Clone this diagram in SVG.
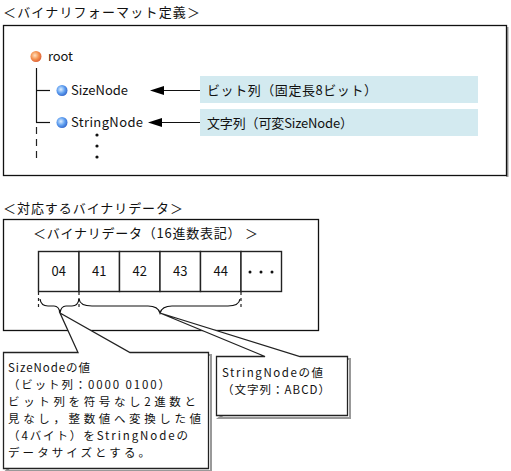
<svg xmlns="http://www.w3.org/2000/svg" width="511" height="471" viewBox="0 0 511 471">
<defs>
<style>
text{font-family:"Noto Sans CJK JP","DejaVu Sans",sans-serif;font-size:13px;fill:#111}
.ct{font-size:11.5px}
.frame{fill:#fff;stroke:#111;stroke-width:1.3}
.blue{fill:#d3eaf0}
.ln{stroke:#111;stroke-width:1.2;fill:none}
.dash{stroke:#222;stroke-width:1.2;fill:none;stroke-dasharray:7,5}
.bdash{stroke:#222;stroke-width:1.2;fill:none;stroke-dasharray:3,3}
.cell{fill:#fff;stroke:#222;stroke-width:1.4}
.call{fill:#fff;stroke:#222;stroke-width:1.3}
.shadow{fill:#999}
</style>
<radialGradient id="gOr" cx="0.4" cy="0.4" r="0.6">
<stop offset="0" stop-color="#ffe0c0"/><stop offset="0.6" stop-color="#f4924e"/><stop offset="1" stop-color="#e0663a"/>
</radialGradient>
<radialGradient id="gBl" cx="0.4" cy="0.4" r="0.6">
<stop offset="0" stop-color="#e0f0ff"/><stop offset="0.6" stop-color="#5f9ff0"/><stop offset="1" stop-color="#3a6fd0"/>
</radialGradient>
<marker id="arr" markerWidth="14" markerHeight="10" refX="0" refY="5" orient="auto" markerUnits="userSpaceOnUse">
<path d="M14,5 L0,0.5 L0,9.5 Z" fill="#000"/>
</marker>
</defs>

<g id="title1"><text x="3" y="17" textLength="197" lengthAdjust="spacing">＜バイナリフォーマット定義＞</text></g>

<g id="format-frame">
<rect x="506" y="27" width="2.5" height="150" class="shadow"/>
<rect x="3.5" y="25.5" width="503" height="150" class="frame"/>
</g>

<g id="connectors">
<line class="ln" x1="36.5" y1="68" x2="36.5" y2="122.5"/>
<line class="ln" x1="36" y1="90.5" x2="50" y2="90.5"/>
<line class="ln" x1="36" y1="122.5" x2="50" y2="122.5"/>
<line class="dash" x1="36.5" y1="127" x2="36.5" y2="160"/>
<line class="ln" x1="200" y1="90.5" x2="164" y2="90.5" marker-end="url(#arr)"/>
<line class="ln" x1="200" y1="122.5" x2="162" y2="122.5" marker-end="url(#arr)"/>
</g>

<g id="root">
<circle cx="36" cy="56.5" r="5.5" fill="url(#gOr)"/>
<text x="48" y="61" textLength="25" lengthAdjust="spacing">root</text>
</g>
<g id="sizenode">
<circle cx="62" cy="90.5" r="5.5" fill="url(#gBl)"/>
<text x="71" y="95" textLength="57" lengthAdjust="spacing">SizeNode</text>
</g>
<g id="stringnode">
<circle cx="62" cy="122.5" r="5.5" fill="url(#gBl)"/>
<text x="71" y="127" textLength="72" lengthAdjust="spacing">StringNode</text>
</g>
<g id="more">
<circle cx="97" cy="135" r="1.6" fill="#111"/>
<circle cx="97" cy="146" r="1.6" fill="#111"/>
<circle cx="97" cy="157" r="1.6" fill="#111"/>
</g>

<g id="desc-size">
<rect x="200" y="76" width="278" height="27" class="blue"/>
<text x="207" y="94.5" textLength="170" lengthAdjust="spacing">ビット列（固定長8ビット）</text>
</g>
<g id="desc-string">
<rect x="200" y="109" width="278" height="27" class="blue"/>
<text x="207" y="127.5" textLength="146" lengthAdjust="spacing">文字列（可変SizeNode）</text>
</g>

<g id="title2"><text x="3" y="213" textLength="180" lengthAdjust="spacing">＜対応するバイナリデータ＞</text></g>

<g id="data-frame">
<rect x="3.5" y="219.5" width="315" height="111" class="frame" stroke="#333"/>
<text x="33" y="238" textLength="225" lengthAdjust="spacing">＜バイナリデータ（16進数表記） ＞</text>
</g>

<g id="cells">
<rect class="cell" x="38.5" y="251.5" width="40.5" height="40"/>
<rect class="cell" x="79" y="251.5" width="40.5" height="40"/>
<rect class="cell" x="119.5" y="251.5" width="40.5" height="40"/>
<rect class="cell" x="160" y="251.5" width="40.5" height="40"/>
<rect class="cell" x="200.5" y="251.5" width="40.5" height="40"/>
<rect class="cell" x="241" y="251.5" width="40.5" height="40"/>
<text x="58.7" y="276" text-anchor="middle">04</text>
<text x="99.2" y="276" text-anchor="middle">41</text>
<text x="139.7" y="276" text-anchor="middle">42</text>
<text x="180.2" y="276" text-anchor="middle">43</text>
<text x="220.7" y="276" text-anchor="middle">44</text>
<circle cx="250" cy="272" r="1.5" fill="#111"/>
<circle cx="261" cy="272" r="1.5" fill="#111"/>
<circle cx="272" cy="272" r="1.5" fill="#111"/>
</g>

<g id="braces">
<line class="bdash" x1="38.5" y1="292" x2="38.5" y2="310"/>
<line class="bdash" x1="79" y1="292" x2="79" y2="310"/>
<line class="bdash" x1="241" y1="292" x2="241" y2="310"/>
<path class="ln" d="M40,299 Q41,306 48,306 L54,306 Q59,306 60,313 Q61,306 66,306 L72,306 Q78,306 79,299"/>
<path class="ln" d="M79,299 Q80,306 92,306 L148,306 Q158,306 160,313 Q162,306 172,306 L228,306 Q239,306 240,299"/>
</g>

<g id="callout-size">
<path d="M6,355 H78 M130,355 H211 V471 H6 Z" fill="none" stroke="#999" stroke-width="2"/>
<path class="call" d="M3.5,352.5 H78 L60,313 L130,352.5 H208.5 V468.5 H3.5 Z"/>
<text class="ct" x="8" y="372" textLength="82" lengthAdjust="spacing">SizeNodeの値</text>
<text class="ct" x="8" y="389" textLength="162" lengthAdjust="spacing">（ビット列：0000 0100）</text>
<text class="ct" x="8" y="406" textLength="188" lengthAdjust="spacing">ビット列を符号なし2進数と</text>
<text class="ct" x="8" y="423" textLength="193" lengthAdjust="spacing">見なし，整数値へ変換した値</text>
<text class="ct" x="8" y="440" textLength="180" lengthAdjust="spacing">（4バイト）をStringNodeの</text>
<text class="ct" x="8" y="457" textLength="142" lengthAdjust="spacing">データサイズとする。</text>
</g>

<g id="callout-string">
<path d="M219,359 H265 M300,359 H350 V418 H219 Z" fill="none" stroke="#999" stroke-width="2"/>
<path class="call" d="M216.5,356.5 H265 L160,313 L300,356.5 H347.5 V415.5 H216.5 Z"/>
<text class="ct" x="222" y="377" textLength="101" lengthAdjust="spacing">StringNodeの値</text>
<text class="ct" x="222" y="394" textLength="108" lengthAdjust="spacing">（文字列：ABCD）</text>
</g>
</svg>
